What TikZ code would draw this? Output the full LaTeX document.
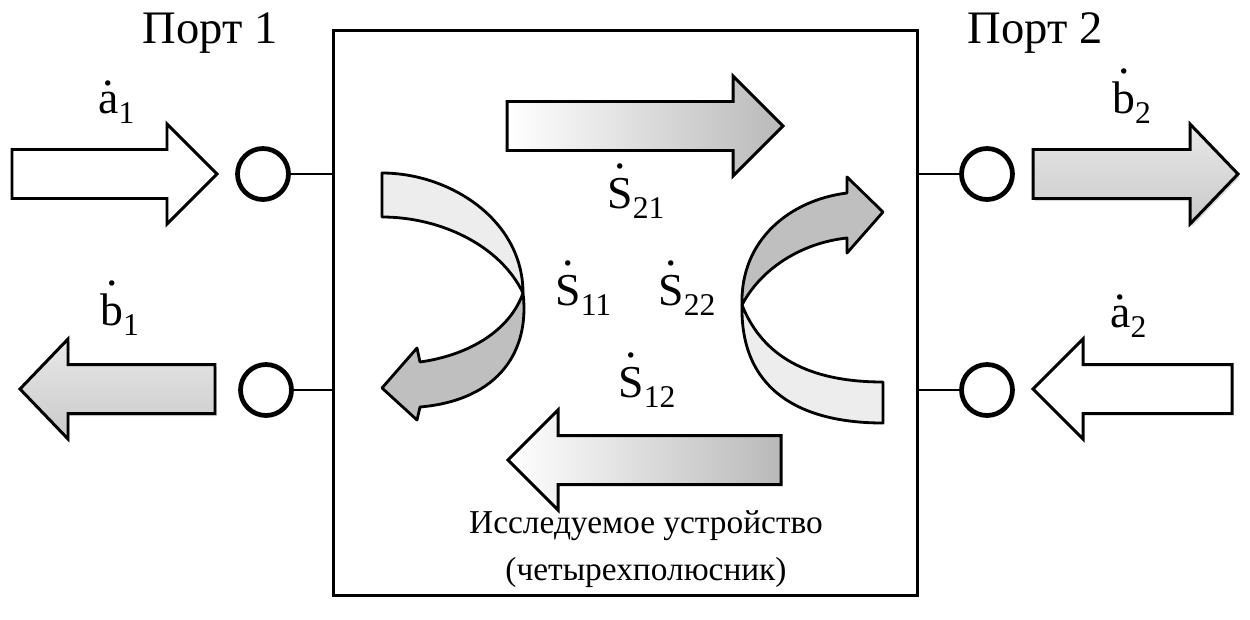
\documentclass[tikz,border=0pt]{standalone}
\usepackage{fontspec}
\setmainfont{Liberation Serif}
\newfontfamily\tnr{Liberation Serif}
\usetikzlibrary{shadows}

% complex wave amplitude / S-parameter: dotted letter with lowered index
\newcommand\wave[3][0.86em]{\leavevmode
  \hbox{\ooalign{#2\cr\hidewidth\raisebox{#1}{.}\hidewidth\cr}}%
  \raisebox{-6pt}{\fontsize{18}{18}\selectfont#3}}

% block arrow: style, tail x, head base x, tip x, axis y
\newcommand\blockarrow[5]{%
  \draw[#1] ({#2},{#5-24.5}) -- ({#3},{#5-24.5}) -- ({#3},{#5-50}) -- ({#4},{#5})
    -- ({#3},{#5+50}) -- ({#3},{#5+24.5}) -- ({#2},{#5+24.5}) -- cycle;}

\begin{document}
\begin{tikzpicture}[x=0.02cm,y=-0.02cm,
  port/.style={circle,draw,line width=2.7pt,minimum size=1.02cm,inner sep=0pt,fill=white},
  wire/.style={line width=1.3pt},
  blk/.style={draw,line width=1.7pt,line join=miter},
  incident/.style={blk,fill=white},
  outgoing/.style={blk,top color=gray!18,bottom color=gray!42,
    drop shadow={opacity=0.3,shadow xshift=1pt,shadow yshift=-1.5pt}},
  transfer/.style={blk,left color=white,right color=gray!55},
  band/.style={draw,line width=1.6pt,line join=round},
  lightside/.style={band,fill=gray!14},
  darkside/.style={band,fill=gray!50},
  lbl/.style={inner sep=0pt,anchor=base west,font=\tnr\fontsize{26}{30}\selectfont},
  title/.style={inner sep=0pt,anchor=base,font=\tnr\fontsize{26.5}{30}\selectfont}]
\useasboundingbox (0,0) rectangle (1250,619);

% device under test
\node[draw,line width=1.7pt,minimum width=11.7cm,minimum height=11.32cm,inner sep=0pt]
  (dut) at (625.5,313) {};

% port terminals and their leads
\node[port] (p1in)  at (263,174) {};
\node[port] (p1out) at (266,390) {};
\node[port] (p2out) at (987,174) {};
\node[port] (p2in)  at (987,390) {};
\draw[wire] (p1in.east)  -- (p1in.east -| dut.west);
\draw[wire] (p1out.east) -- (p1out.east -| dut.west);
\draw[wire] (p2out.west) -- (p2out.west -| dut.east);
\draw[wire] (p2in.west)  -- (p2in.west -| dut.east);

% port titles
\node[title] (t1) at (210,43) {Порт 1};
\node[title] (t2) at (1035,43) {Порт 2};

% incident and outgoing waves
\blockarrow{incident}{12}{167}{217}{174}
\blockarrow{outgoing}{215}{68}{20}{389}
\blockarrow{outgoing}{1033}{1190}{1238}{174}
\blockarrow{incident}{1232}{1083}{1033}{389}

\node[lbl] (la1) at (98,113)   {\wave[0.6em]{a}{1}};
\node[lbl] (lb1) at (100,325)  {\wave{b}{1}};
\node[lbl] (lb2) at (1112,113) {\wave{b}{2}};
\node[lbl] (la2) at (1110,327) {\wave[0.6em]{a}{2}};

% transmission paths
\blockarrow{transfer}{507}{733}{783}{126}
\blockarrow{transfer}{781}{558}{508}{460}

% reflection at port 1 (twisted ribbon arrow)
\draw[lightside] (382,173) .. controls (450,173) and (523,220) .. (523,293)
  .. controls (500,245) and (440,217) .. (382,217) -- cycle;
\draw[darkside] (523,293) .. controls (530,350) and (500,400) .. (420,407)
  -- (417,420) -- (382,388) -- (417,348) -- (420,362)
  .. controls (470,355) and (510,330) .. (523,293) -- cycle;

% reflection at port 2
\draw[darkside] (742,305) .. controls (740,240) and (790,200) .. (847,193)
  -- (847,177) -- (883,212) -- (847,253) -- (847,238)
  .. controls (800,243) and (760,270) .. (742,305) -- cycle;
\draw[lightside] (742,305) .. controls (740,390) and (800,423) .. (883,423)
  -- (883,382) .. controls (800,382) and (760,350) .. (742,305) -- cycle;

% scattering parameters
\node[lbl] (s21) at (607,208) {\wave{S}{21}};
\node[lbl] (s11) at (555,305) {\wave{S}{11}};
\node[lbl] (s22) at (658,305) {\wave{S}{22}};
\node[lbl] (s12) at (618,397) {\wave{S}{12}};

% caption
\node[inner sep=0pt,anchor=north,align=center,font=\tnr\fontsize{19}{27}\selectfont]
  (cap) at (646,510) {Исследуемое устройство\\(четырехполюсник)};
\end{tikzpicture}
\end{document}
